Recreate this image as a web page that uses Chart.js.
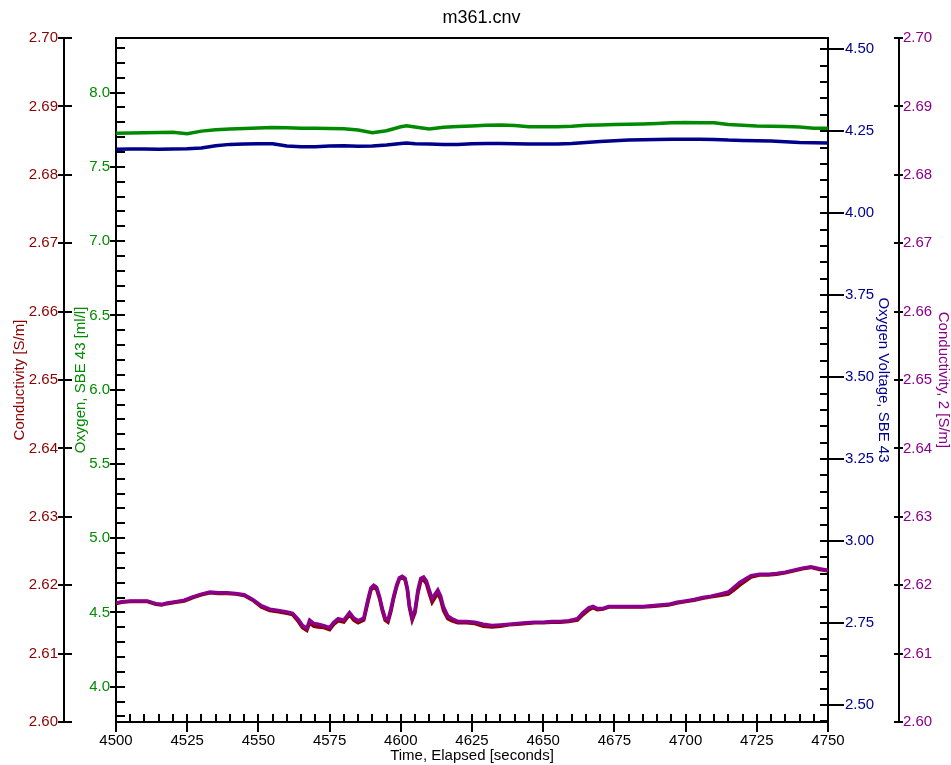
<!DOCTYPE html>
<html>
<head>
<meta charset="utf-8">
<title>m361.cnv</title>
<script src="https://cdn.jsdelivr.net/npm/chart.js@4/dist/chart.umd.min.js"></script>
<style>
body { margin: 0; background: #fff; }
#wrap { width: 951px; height: 765px; }
</style>
</head>
<body>
<div id="wrap"><canvas id="chart" width="951" height="765"></canvas></div>
<script>
// Elapsed time [s] for the two conductivity sensors
var condTime = [4500, 4502, 4505, 4508, 4511, 4514, 4516, 4518, 4521, 4524, 4527, 4530, 4533, 4536, 4539, 4542, 4545, 4548, 4551, 4554,
	4557, 4560, 4562, 4564, 4565.5, 4567, 4568, 4569.5, 4571, 4573, 4575, 4576.5, 4578, 4580, 4582, 4583.5, 4585, 4587, 4588.5, 4589.5,
	4590.5, 4591.5, 4592.5, 4593.5, 4594.5, 4595.5, 4596.5, 4597.5, 4598.5, 4599.5, 4600.5, 4601.5, 4602.3, 4603, 4604, 4605, 4606, 4607, 4608, 4609,
	4610, 4611, 4612, 4613, 4614, 4615, 4616.5, 4618,
	4620, 4623, 4626, 4629, 4632, 4635, 4638, 4641, 4644, 4647, 4650, 4653, 4656, 4659, 4662, 4664, 4666, 4667.5, 4669, 4671,
	4673, 4676, 4679, 4682, 4685, 4688, 4691, 4694, 4697, 4700, 4703, 4706, 4709, 4712, 4715, 4717, 4719, 4721, 4723, 4726,
	4729, 4732, 4735, 4738, 4741, 4744, 4747, 4750];
// Conductivity [S/m]
var cond1 = [2.6173, 2.6175, 2.6176, 2.6176, 2.6176, 2.6172, 2.6171, 2.6173, 2.6175, 2.6177, 2.6182, 2.6186, 2.6189, 2.6188, 2.6188, 2.6187, 2.6185, 2.6178, 2.6168, 2.6163,
	2.6161, 2.6159, 2.6157, 2.6147, 2.6138, 2.6134, 2.6145, 2.6140, 2.6139, 2.6138, 2.6135, 2.6143, 2.6148, 2.6146, 2.6157, 2.6149, 2.6145, 2.6149, 2.6176, 2.6193,
	2.6197, 2.6194, 2.6181, 2.6163, 2.6149, 2.6146, 2.6161, 2.6181, 2.6197, 2.6209, 2.6211, 2.6208, 2.6193, 2.6168, 2.6149, 2.6160, 2.6188, 2.6206, 2.6208, 2.6202,
	2.6188, 2.6175, 2.6182, 2.6188, 2.6179, 2.6163, 2.6151, 2.6148,
	2.6145, 2.6145, 2.6144, 2.6140, 2.6139, 2.6140, 2.6142, 2.6143, 2.6144, 2.6145, 2.6145, 2.6146, 2.6146, 2.6147, 2.6149, 2.6157, 2.6164, 2.6167, 2.6164, 2.6165,
	2.6168, 2.6168, 2.6168, 2.6168, 2.6168, 2.6169, 2.6170, 2.6171, 2.6174, 2.6176, 2.6178, 2.6181, 2.6183, 2.6185, 2.6187, 2.6193, 2.6200, 2.6206, 2.6212, 2.6215,
	2.6215, 2.6216, 2.6218, 2.6221, 2.6224, 2.6226, 2.6223, 2.6221];
// Conductivity, 2 [S/m]
var cond2 = [2.6174, 2.6176, 2.6177, 2.6177, 2.6177, 2.6173, 2.6172, 2.6174, 2.6176, 2.6178, 2.6183, 2.6187, 2.6190, 2.6189, 2.6189, 2.6188, 2.6186, 2.6179, 2.6170, 2.6165,
	2.6163, 2.6161, 2.6159, 2.6150, 2.6141, 2.6137, 2.6149, 2.6144, 2.6143, 2.6141, 2.6138, 2.6146, 2.6151, 2.6149, 2.6160, 2.6152, 2.6148, 2.6152, 2.6180, 2.6196,
	2.6200, 2.6197, 2.6184, 2.6166, 2.6152, 2.6149, 2.6165, 2.6184, 2.6200, 2.6211, 2.6213, 2.6210, 2.6196, 2.6171, 2.6152, 2.6164, 2.6193, 2.6210, 2.6212, 2.6206,
	2.6193, 2.6180, 2.6187, 2.6193, 2.6184, 2.6168, 2.6155, 2.6151,
	2.6147, 2.6147, 2.6146, 2.6143, 2.6141, 2.6142, 2.6143, 2.6144, 2.6145, 2.6146, 2.6146, 2.6147, 2.6147, 2.6148, 2.6151, 2.6160, 2.6167, 2.6169, 2.6166, 2.6166,
	2.6169, 2.6169, 2.6169, 2.6169, 2.6169, 2.6170, 2.6171, 2.6172, 2.6175, 2.6177, 2.6179, 2.6182, 2.6184, 2.6187, 2.6190, 2.6197, 2.6204, 2.6209, 2.6214, 2.6216,
	2.6216, 2.6217, 2.6219, 2.6222, 2.6225, 2.6227, 2.6224, 2.6222];

// Elapsed time [s] for the oxygen sensor
var oxyTime = [4500, 4505, 4510, 4515, 4520, 4525, 4530, 4535, 4540, 4545, 4550, 4555, 4560, 4565, 4570, 4575, 4580, 4585, 4590, 4595,
	4600, 4602, 4605, 4610, 4615, 4620, 4625, 4630, 4635, 4640, 4645, 4650, 4655, 4660, 4665, 4670, 4675, 4680, 4685, 4690,
	4695, 4700, 4705, 4710, 4715, 4720, 4725, 4730, 4735, 4740, 4745, 4750];
// Oxygen, SBE 43 [ml/l]
var oxygen = [7.726, 7.729, 7.730, 7.731, 7.733, 7.723, 7.741, 7.750, 7.755, 7.758, 7.762, 7.766, 7.764, 7.761, 7.760, 7.759, 7.757, 7.748, 7.730, 7.744,
	7.770, 7.777, 7.768, 7.755, 7.767, 7.772, 7.776, 7.781, 7.782, 7.779, 7.771, 7.771, 7.771, 7.774, 7.780, 7.782, 7.785, 7.787, 7.789, 7.793,
	7.797, 7.799, 7.798, 7.797, 7.785, 7.781, 7.776, 7.774, 7.772, 7.768, 7.761, 7.760];
// Oxygen Voltage, SBE 43
var voltage = [4.195, 4.196, 4.196, 4.195, 4.196, 4.197, 4.199, 4.206, 4.210, 4.211, 4.212, 4.212, 4.205, 4.203, 4.203, 4.205, 4.206, 4.204, 4.205, 4.208,
	4.213, 4.214, 4.212, 4.211, 4.210, 4.210, 4.212, 4.213, 4.213, 4.212, 4.211, 4.211, 4.211, 4.213, 4.216, 4.219, 4.221, 4.223, 4.224, 4.225,
	4.226, 4.226, 4.226, 4.225, 4.223, 4.222, 4.221, 4.220, 4.218, 4.216, 4.215, 4.214];

// Axis ranges
var timeRange = [4500, 4750];
var condRange = [2.60, 2.70];
var oxyRange = [3.762, 8.368];
var voltRange = [2.448, 4.5345];

var red = '#8b0000';
var purple = '#8b008b';
var green = '#008a00';
var navy = '#00008b';

// tick marks drawn by hand: [towards plot, away from plot] in px
var tickMarks = {
	x:     {major: [8, 10], minor: [8, 0]},
	cond:  {major: [8, 6], minor: [0, 0]},
	oxy:   {major: [9, 6], minor: [9, 0]},
	volt:  {major: [8, 16], minor: [8, 0]},
	cond2: {major: [5, 4], minor: [0, 0]}
};

function points(xs, ys) {
	var out = [];
	for (var i = 0; i < xs.length; i++) {
		out.push({x: xs[i], y: ys[i]});
	}
	return out;
}

function isStep(v, step) {
	var q = v / step;
	return Math.abs(q - Math.round(q)) < 1e-6;
}

// Draws ticks crossing the axes plus the top line of the frame
var axisTicks = {
	id: 'axisTicks',
	afterDraw: function(chart) {
		var ctx = chart.ctx;
		var area = chart.chartArea;
		ctx.save();
		ctx.strokeStyle = '#000';
		ctx.lineWidth = 2;
		ctx.beginPath();
		ctx.moveTo(area.left - 1, area.top);
		ctx.lineTo(area.right + 1, area.top);
		Object.keys(tickMarks).forEach(function(id) {
			var scale = chart.scales[id];
			var m = tickMarks[id];
			scale.ticks.forEach(function(t) {
				var len = t.label !== '' ? m.major : m.minor;
				if (len[0] + len[1] == 0) return;
				var p = Math.round(scale.getPixelForValue(t.value));
				var pos = scale.options.position;
				if (pos == 'bottom') {
					ctx.moveTo(p, scale.top - len[0]);
					ctx.lineTo(p, scale.top + len[1]);
				} else if (pos == 'left') {
					ctx.moveTo(scale.right - len[1], p);
					ctx.lineTo(scale.right + len[0], p);
				} else {
					ctx.moveTo(scale.left - len[0], p);
					ctx.lineTo(scale.left + len[1], p);
				}
			});
		});
		ctx.stroke();
		ctx.restore();
	}
};

function yAxis(pos, weight, range, step, color, title, width, pad, titlePad, fmt) {
	return {
		type: 'linear',
		position: pos,
		weight: weight,
		min: range[0],
		max: range[1],
		afterFit: function(s) { s.width = width; },
		grid: {display: true, drawOnChartArea: false, drawTicks: false, lineWidth: 2, color: '#000'},
		border: {display: true, color: '#000', width: 2},
		ticks: {stepSize: step, autoSkip: false, includeBounds: false, padding: pad, color: color, callback: fmt},
		title: {display: true, text: title, color: color, font: {size: 15, lineHeight: 1}, padding: {top: titlePad, bottom: 0}}
	};
}

Chart.defaults.font.family = "'Liberation Sans', Arial, sans-serif";
Chart.defaults.font.size = 15;
Chart.defaults.color = '#000';

var config = {
	type: 'line',
	data: {
		datasets: [{
			label: 'Conductivity, 2 [S/m]',
			data: points(condTime, cond2),
			yAxisID: 'cond2',
			borderColor: purple,
			order: 0
		},
		{
			label: 'Conductivity [S/m]',
			data: points(condTime, cond1),
			yAxisID: 'cond',
			borderColor: red,
			order: 1
		},
		{
			label: 'Oxygen, SBE 43 [ml/l]',
			data: points(oxyTime, oxygen),
			yAxisID: 'oxy',
			borderColor: green,
			order: 2
		},
		{
			label: 'Oxygen Voltage, SBE 43',
			data: points(oxyTime, voltage),
			yAxisID: 'volt',
			borderColor: navy,
			order: 3
		}]
	},
	options: {
		responsive: false,
		animation: false,
		layout: {padding: {left: 12, right: 0, top: 0, bottom: 0}},
		elements: {
			point: {radius: 0},
			line: {borderWidth: 3.5, tension: 0}
		},
		plugins: {
			legend: {display: false},
			tooltip: {enabled: false},
			title: {
				display: true,
				text: 'm361.cnv',
				color: '#000',
				font: {size: 18, weight: 'normal'},
				padding: {top: 7, bottom: 9.4}
			}
		},
		scales: {
			x: {
				type: 'linear',
				position: 'bottom',
				min: timeRange[0],
				max: timeRange[1],
				afterFit: function(s) { s.height = 43; },
				grid: {display: true, drawOnChartArea: false, drawTicks: false, lineWidth: 2, color: '#000'},
				border: {display: true, color: '#000', width: 2},
				ticks: {
					stepSize: 5,
					autoSkip: false,
					maxRotation: 0,
					padding: 10,
					color: '#000',
					callback: function(v) { return isStep(v, 25) ? String(v) : ''; }
				},
				title: {display: true, text: 'Time, Elapsed [seconds]', color: '#000', font: {size: 15}, padding: {top: 0, bottom: 0}}
			},
			cond: yAxis('left', 2, condRange, 0.01, red, 'Conductivity [S/m]', 52, 6, 0,
				function(v) { return v.toFixed(2); }),
			oxy: yAxis('left', 1, oxyRange, 0.1, green, 'Oxygen, SBE 43 [ml/l]', 52, 6, 9,
				function(v) { return isStep(v, 0.5) ? v.toFixed(1) : ''; }),
			volt: yAxis('right', 1, voltRange, 0.05, navy, 'Oxygen Voltage, SBE 43', 71, 17, 8,
				function(v) { return isStep(v, 0.25) ? v.toFixed(2) : ''; }),
			cond2: yAxis('right', 2, condRange, 0.01, purple, 'Conductivity, 2 [S/m]', 52, 4, 0,
				function(v) { return v.toFixed(2); })
		}
	},
	plugins: [axisTicks]
};

var ctx = document.getElementById('chart').getContext('2d');
window.myLine = new Chart(ctx, config);
</script>
</body>
</html>
